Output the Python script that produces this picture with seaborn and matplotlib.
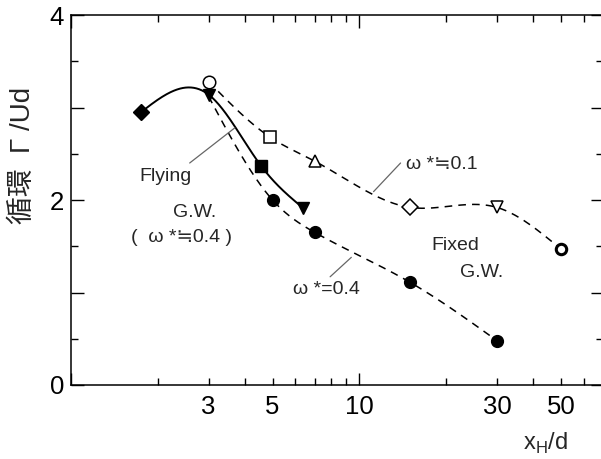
import numpy as np
import matplotlib
matplotlib.use("Agg")
import matplotlib.pyplot as plt
from matplotlib.ticker import FixedLocator, FuncFormatter, MultipleLocator
import seaborn as sns

# Flying G.W. (solid curve)
fly_x = [1.75, 3.0, 4.56, 6.4]
fly_y = [2.95, 3.14, 2.37, 1.91]
fly_marker = ["D", "v", "s", "v"]

# Fixed G.W., omega* ~ 0.1 (open symbols)
w01_x = [3.0, 4.9, 7.0, 15.0, 30.0, 50.0]
w01_y = [3.28, 2.68, 2.42, 1.92, 1.92, 1.47]
w01_marker = ["o", "s", "^", "D", "v", "o"]

# Fixed G.W., omega* = 0.4 (filled circles; first point hidden under the triangle)
w04_x = [3.0, 5.0, 7.0, 15.0, 30.0]
w04_y = [3.12, 2.0, 1.65, 1.11, 0.48]

x_major = [1, 10, 100]
x_minor = [2, 3, 4, 5, 6, 7, 8, 9, 20, 30, 40, 50, 60]
x_labels = {3: "3", 5: "5", 10: "10", 30: "30", 50: "50"}
y_labels = {0: "0", 2: "2", 4: "4"}


def smooth(xk, yk, n=300):
    # natural cubic spline through the points, in log-x
    lx = np.log10(np.asarray(xk, float))
    yk = np.asarray(yk, float)
    h = np.diff(lx)
    m = len(lx)
    A = np.zeros((m, m))
    b = np.zeros(m)
    A[0, 0] = A[-1, -1] = 1
    for i in range(1, m - 1):
        A[i, i - 1] = h[i - 1]
        A[i, i] = 2 * (h[i - 1] + h[i])
        A[i, i + 1] = h[i]
        b[i] = 6 * ((yk[i + 1] - yk[i]) / h[i] - (yk[i] - yk[i - 1]) / h[i - 1])
    M = np.linalg.solve(A, b)
    xs = np.linspace(lx[0], lx[-1], n)
    idx = np.clip(np.searchsorted(lx, xs) - 1, 0, m - 2)
    x0, x1 = lx[idx], lx[idx + 1]
    hh = x1 - x0
    t0, t1 = x1 - xs, xs - x0
    ys = (M[idx] * t0**3 + M[idx + 1] * t1**3) / (6 * hh) \
        + (yk[idx] / hh - M[idx] * hh / 6) * t0 \
        + (yk[idx + 1] / hh - M[idx + 1] * hh / 6) * t1
    return 10**xs, ys


sns.set_style("ticks")
plt.rcParams["font.family"] = ["Liberation Sans", "Noto Sans CJK JP", "DejaVu Sans"]
plt.rcParams["mathtext.fontset"] = "custom"
plt.rcParams["mathtext.rm"] = "Liberation Sans"

fig = plt.figure(figsize=(6.01, 4.59), dpi=100)
ax = fig.add_axes([71 / 601, 74 / 459, 532 / 601, 370 / 459])

dash = (0, (5, 4))
sx, sy = smooth(fly_x, fly_y)
sns.lineplot(x=sx, y=sy, ax=ax, color="k", lw=1.4, sort=False)
sx, sy = smooth(w01_x, w01_y)
sns.lineplot(x=sx, y=sy, ax=ax, color="k", lw=1.1, linestyle=dash, sort=False)
sx, sy = smooth(w04_x, w04_y)
sns.lineplot(x=sx, y=sy, ax=ax, color="k", lw=1.1, linestyle=dash, sort=False)

sizes = {"o": 9, "s": 9, "D": 8, "^": 9, "v": 9}
for x, y in zip(w04_x[1:], w04_y[1:]):
    ax.plot(x, y, "o", ms=8.5, mfc="k", mec="k", zorder=5)
for x, y, mk in zip(fly_x, fly_y, fly_marker):
    ax.plot(x, y, mk, ms=sizes[mk], mfc="k", mec="k", zorder=6)
for i, (x, y, mk) in enumerate(zip(w01_x, w01_y, w01_marker)):
    last = i == len(w01_x) - 1
    ax.plot(x, y, mk, ms=7.5 if last else sizes[mk], mfc="white", mec="k",
            mew=2.2 if last else 1.1, zorder=6)

# annotations
fs = 14
ax.text(2.13, 2.25, "Flying", fontsize=fs, ha="center", va="center")
ax.text(2.68, 1.87, "G.W.", fontsize=fs, ha="center", va="center")
ax.text(2.42, 1.60, "(  ω *≒0.4 )", fontsize=fs, ha="center", va="center")
ax.plot([2.58, 3.70], [2.40, 2.78], color="0.4", lw=0.9)
ax.text(14.5, 2.38, "ω *≒0.1", fontsize=fs, ha="left", va="center")
ax.plot([11.2, 13.9], [2.09, 2.40], color="0.4", lw=0.9)
ax.text(5.9, 1.03, "ω *=0.4", fontsize=fs, ha="left", va="center")
ax.plot([7.92, 9.38], [1.17, 1.38], color="0.4", lw=0.9)
ax.text(21.6, 1.51, "Fixed", fontsize=fs, ha="center", va="center")
ax.text(26.6, 1.22, "G.W.", fontsize=fs, ha="center", va="center")

ax.set_xscale("log")
ax.set_xlim(1, 70)
ax.set_ylim(0, 4)
ax.xaxis.set_major_locator(FixedLocator(x_major))
ax.xaxis.set_minor_locator(FixedLocator(x_minor))
ax.xaxis.set_major_formatter(FuncFormatter(lambda v, p: x_labels.get(int(round(v)), "")))
ax.xaxis.set_minor_formatter(FuncFormatter(lambda v, p: x_labels.get(int(round(v)), "")))
ax.yaxis.set_major_locator(FixedLocator([0, 1, 2, 3, 4]))
ax.yaxis.set_minor_locator(MultipleLocator(0.5))
ax.yaxis.set_major_formatter(FuncFormatter(lambda v, p: y_labels.get(int(round(v)), "")))

ax.tick_params(which="both", direction="in", top=True, right=True,
               colors="k", width=1.0, labelsize=18.5)
ax.tick_params(which="major", length=9)
ax.tick_params(which="minor", length=5)
ax.tick_params(axis="x", which="both", pad=7)
ax.tick_params(axis="y", which="both", pad=5)
for s in ax.spines.values():
    s.set_linewidth(1.1)
    s.set_color("k")

ax.text(-0.091, 0.62, "循環  Γ /Ud", rotation=90, transform=ax.transAxes,
        ha="center", va="center", fontsize=20)
ax.text(0.891, -0.157, "x$_{\\mathregular{H}}$/d", transform=ax.transAxes,
        ha="center", va="center", fontsize=17)

fig.savefig("out.png", dpi=100)
